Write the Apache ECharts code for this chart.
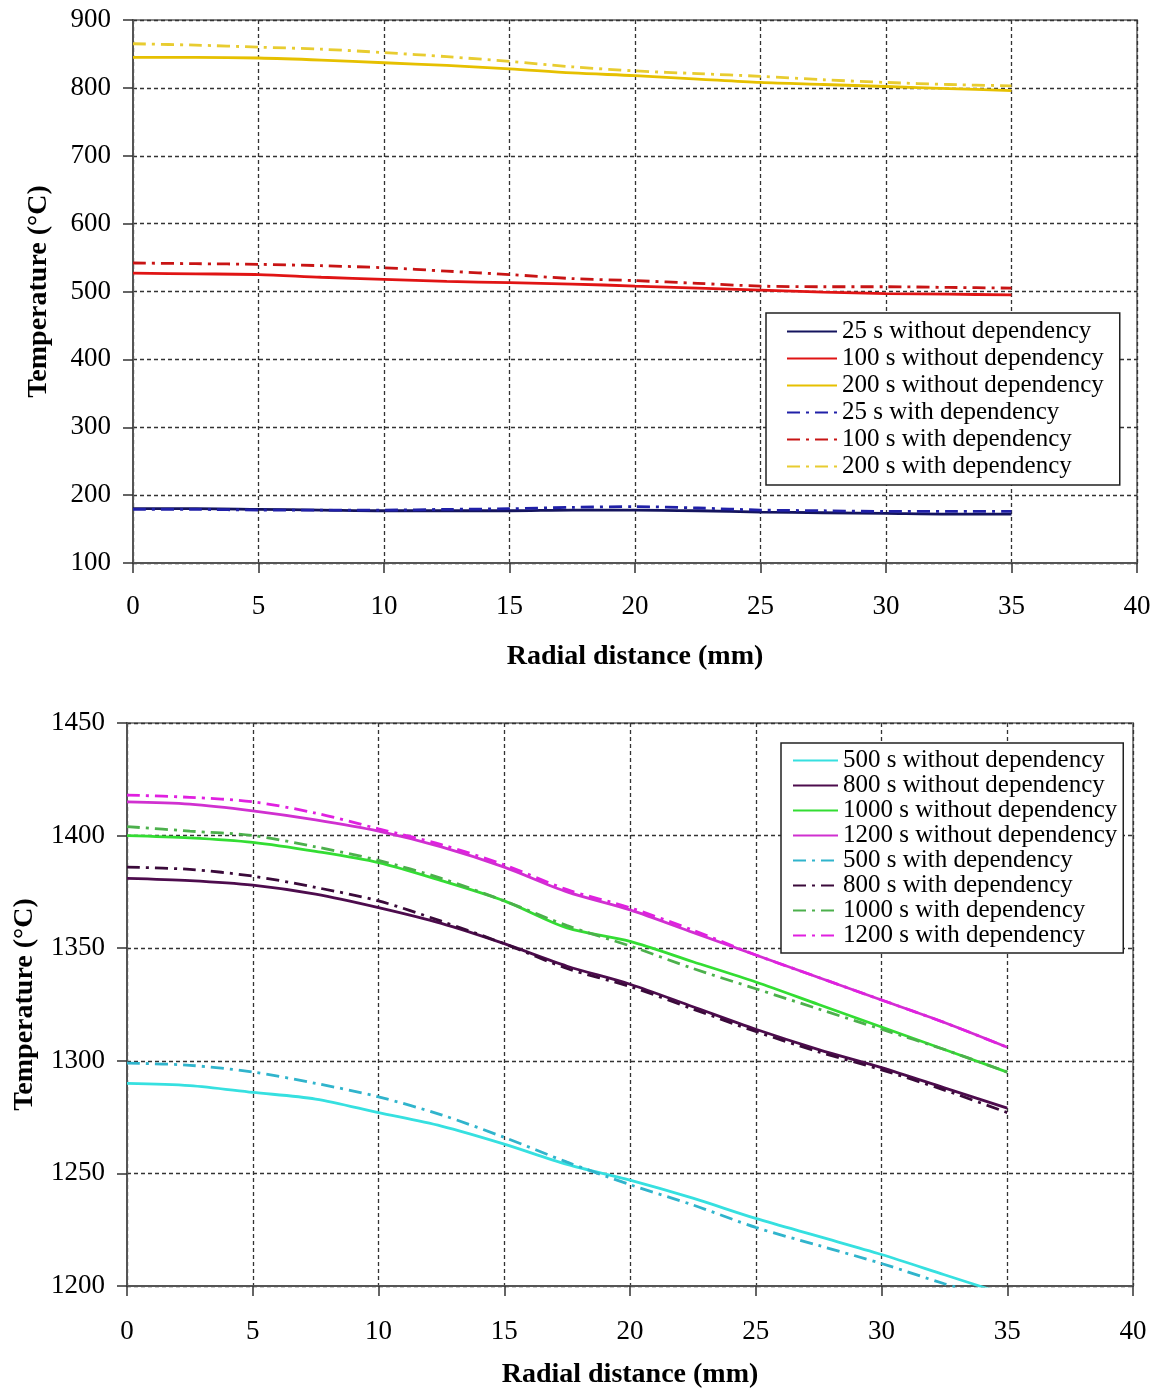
<!DOCTYPE html>
<html>
<head>
    <meta charset="utf-8">
    <title>Temperature vs radial distance</title>
    <script src="https://cdn.jsdelivr.net/npm/echarts@6/dist/echarts.min.js"></script>
    <style>
        html, body { margin: 0; padding: 0; background: #fff; }
        #main { width: 1157px; height: 1391px; }
    </style>
</head>
<body>
<div id="main"></div>
<script type="text/javascript">

    // radial distance (mm), shared by both panels
    var distance = [0, 2.5, 5, 7.5, 10, 12.5, 15, 17.5, 20, 22.5, 25, 27.5, 30, 32.5, 35];

    // top panel (°C)
    var t25Without  = [180, 180, 179, 178, 177, 177, 177, 178, 178, 177, 175, 174, 173, 172, 172];
    var t100Without = [527, 526, 525, 521, 518, 515, 513, 511, 508, 505, 502, 499, 497, 496, 495];
    var t200Without = [845, 845, 844, 841, 837, 833, 828, 822, 818, 813, 808, 805, 802, 799, 796];
    var t25With     = [179, 179, 178, 178, 178, 179, 180, 182, 183, 181, 178, 177, 176, 176, 176];
    var t100With    = [542, 541, 540, 538, 535, 530, 525, 519, 516, 512, 508, 507, 507, 506, 505];
    var t200With    = [865, 863, 860, 857, 852, 846, 839, 831, 825, 821, 817, 812, 808, 805, 803];

    // bottom panel (°C)
    var b500Without  = [1290, 1289, 1286, 1283, 1277, 1271, 1263, 1254, 1247, 1239, 1230, 1222, 1214, 1205, 1196];
    var b800Without  = [1381, 1380, 1378, 1374, 1368, 1361, 1352, 1342, 1334, 1324, 1314, 1305, 1297, 1288, 1279];
    var b1000Without = [1400, 1399, 1397, 1393, 1388, 1380, 1371, 1359, 1353, 1344, 1335, 1325, 1315, 1305, 1295];
    var b1200Without = [1415, 1414, 1411, 1407, 1402, 1395, 1386, 1375, 1367, 1357, 1347, 1337, 1327, 1317, 1306];
    var b500With     = [1299, 1298, 1295, 1290, 1284, 1276, 1266, 1255, 1245, 1236, 1226, 1218, 1210, 1201, 1193];
    var b800With     = [1386, 1385, 1382, 1377, 1371, 1362, 1352, 1341, 1333, 1323, 1313, 1304, 1296, 1287, 1277];
    var b1000With    = [1404, 1402, 1400, 1395, 1389, 1381, 1371, 1360, 1351, 1341, 1332, 1323, 1314, 1305, 1295];
    var b1200With    = [1418, 1417, 1415, 1410, 1403, 1396, 1387, 1376, 1368, 1358, 1347, 1337, 1327, 1317, 1306];

    var topNames = ['25 s without dependency', '100 s without dependency', '200 s without dependency',
                    '25 s with dependency', '100 s with dependency', '200 s with dependency'];
    var bottomNames = ['500 s without dependency', '800 s without dependency', '1000 s without dependency',
                       '1200 s without dependency', '500 s with dependency', '800 s with dependency',
                       '1000 s with dependency', '1200 s with dependency'];

    var FONT = 'Liberation Serif';
    var DASHDOT = [13, 6, 3, 6];

    function pairs(ys) {
        var out = [];
        for (var i = 0; i < ys.length; i++) out.push([distance[i], ys[i]]);
        return out;
    }

    function line(name, ys, color, dashed, idx) {
        return {
            name: name,
            type: 'line',
            xAxisIndex: idx,
            yAxisIndex: idx,
            data: pairs(ys),
            smooth: 0.3,
            symbol: 'none',
            lineStyle: { color: color, width: 2.8, type: dashed ? DASHDOT : 'solid' },
            itemStyle: { color: color }
        };
    }

    function xAxisFor(idx, labelMargin, nameGap) {
        return {
            gridIndex: idx,
            type: 'value',
            min: 0, max: 40, interval: 5,
            name: 'Radial distance (mm)',
            nameLocation: 'middle',
            nameGap: nameGap,
            nameTextStyle: { fontFamily: FONT, fontSize: 28, fontWeight: 'bold', color: '#000' },
            axisLine: { show: true, lineStyle: { color: '#555', width: 2 } },
            axisTick: { show: true, inside: false, length: 10, lineStyle: { color: '#333', width: 1.5 } },
            axisLabel: { margin: labelMargin, fontFamily: FONT, fontSize: 27, color: '#000' },
            splitLine: { show: true, lineStyle: { color: '#333', width: 1.3, type: [4, 3] } }
        };
    }

    function yAxisFor(idx, min, max, interval, nameGap) {
        return {
            gridIndex: idx,
            type: 'value',
            min: min, max: max, interval: interval,
            name: 'Temperature (°C)',
            nameLocation: 'middle',
            nameGap: nameGap,
            nameTextStyle: { fontFamily: FONT, fontSize: 28, fontWeight: 'bold', color: '#000' },
            axisLine: { show: true, onZero: false, lineStyle: { color: '#555', width: 2 } },
            axisTick: { show: true, inside: false, length: 10, lineStyle: { color: '#333', width: 1.5 } },
            axisLabel: {
                margin: 22, fontFamily: FONT, fontSize: 27, color: '#000',
                formatter: function (v) { return String(v); }
            },
            splitLine: { show: true, lineStyle: { color: '#333', width: 1.3, type: [4, 3] } }
        };
    }

    var myChart = echarts.init(document.getElementById('main'));

    var option = {
        backgroundColor: '#fff',
        animation: false,
        grid: [
            { left: 133, top: 20, width: 1004, height: 543, show: true, borderColor: '#888', borderWidth: 2 },
            { left: 127, top: 723, width: 1006, height: 563, show: true, borderColor: '#888', borderWidth: 2 }
        ],
        xAxis: [xAxisFor(0, 30, 80), xAxisFor(1, 32, 75)],
        yAxis: [yAxisFor(0, 100, 900, 100, 80), yAxisFor(1, 1200, 1450, 50, 88)],
        legend: [
            {
                data: topNames,
                orient: 'vertical',
                left: 766, top: 313,
                itemWidth: 50, itemHeight: 20, itemGap: 2,
                padding: [6, 16, 6, 20],
                backgroundColor: '#fff',
                borderColor: '#222', borderWidth: 1.5, borderRadius: 0,
                itemStyle: { opacity: 0 },
                textStyle: { fontFamily: FONT, fontSize: 25, color: '#000' }
            },
            {
                data: bottomNames,
                orient: 'vertical',
                left: 781, top: 743,
                itemWidth: 45, itemHeight: 20, itemGap: 0,
                padding: [5, 6, 5, 11],
                backgroundColor: '#fff',
                borderColor: '#222', borderWidth: 1.5, borderRadius: 0,
                itemStyle: { opacity: 0 },
                textStyle: { fontFamily: FONT, fontSize: 25, color: '#000' }
            }
        ],
        series: [
            line(topNames[0], t25Without, '#14145e', false, 0),
            line(topNames[1], t100Without, '#e01414', false, 0),
            line(topNames[2], t200Without, '#e6c000', false, 0),
            line(topNames[3], t25With, '#2020a8', true, 0),
            line(topNames[4], t100With, '#c81414', true, 0),
            line(topNames[5], t200With, '#e8cc30', true, 0),

            line(bottomNames[0], b500Without, '#36e0e0', false, 1),
            line(bottomNames[1], b800Without, '#4d0c4d', false, 1),
            line(bottomNames[2], b1000Without, '#33dd33', false, 1),
            line(bottomNames[3], b1200Without, '#d030d0', false, 1),
            line(bottomNames[4], b500With, '#30b4cc', true, 1),
            line(bottomNames[5], b800With, '#3a0a3a', true, 1),
            line(bottomNames[6], b1000With, '#4cb04c', true, 1),
            line(bottomNames[7], b1200With, '#e020e0', true, 1)
        ]
    };

    myChart.setOption(option);

</script>
</body>
</html>
